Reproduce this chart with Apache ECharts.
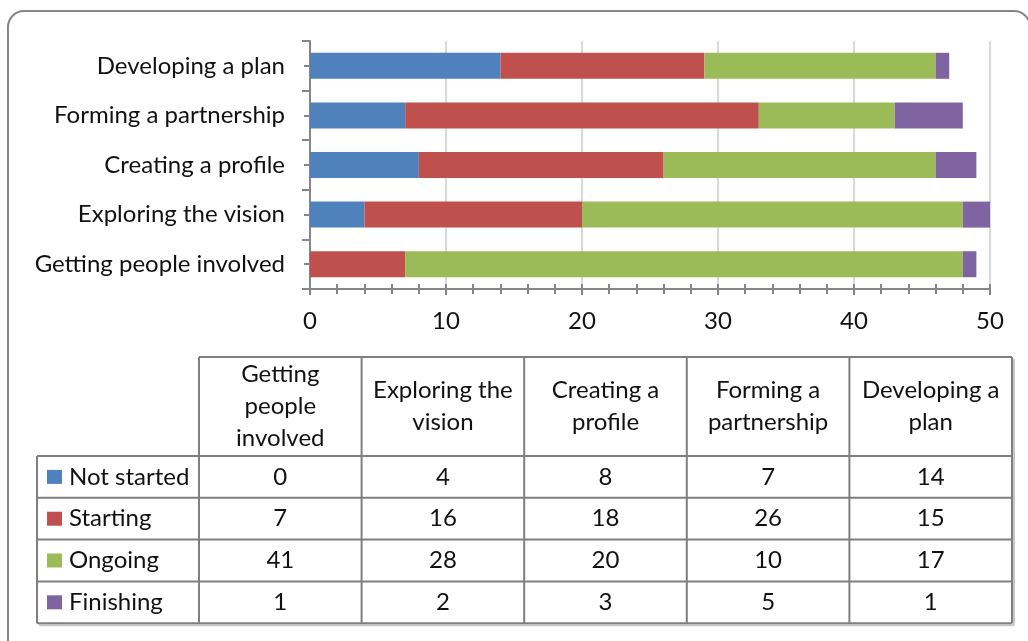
<!DOCTYPE html>
<html>
<head>
<meta charset="utf-8">
<script src="https://cdn.jsdelivr.net/npm/echarts@6/dist/echarts.min.js"></script>
<style>
  html, body { margin: 0; padding: 0; background: #ffffff; }
  #chart { width: 1028px; height: 641px; }
</style>
</head>
<body>
<div id="chart"></div>
<script>
// Progress of each stage, counted per status
const categories = ['Getting people involved', 'Exploring the vision', 'Creating a profile', 'Forming a partnership', 'Developing a plan'];
const headerLabels = ['Getting\npeople\ninvolved', 'Exploring the\nvision', 'Creating a\nprofile', 'Forming a\npartnership', 'Developing a\nplan'];
const seriesNames = ['Not started', 'Starting', 'Ongoing', 'Finishing'];
const notStarted = [0, 4, 8, 7, 14];
const starting = [7, 16, 18, 26, 15];
const ongoing = [41, 28, 20, 10, 17];
const finishing = [1, 2, 3, 5, 1];
const xTickLabels = ['0', '10', '20', '30', '40', '50'];

const seriesValues = [notStarted, starting, ongoing, finishing];
const colors = ['#4f81bd', '#c0504d', '#9bbb59', '#8064a2'];
const FONT = 'Lato, "Noto Sans", sans-serif';
const FS = 24;
const TEXT = '#111111';
const AXIS = '#868686';

// data table geometry
const tbl = {
  legendLeft: 37, colStart: 199, colW: 162.6,
  headTop: 357, headBottom: 456, rowH: 41.8
};

function buildTable() {
  const els = [];
  const nCols = categories.length;
  const right = tbl.colStart + nCols * tbl.colW;
  const bottom = tbl.headBottom + seriesNames.length * tbl.rowH;
  const lineStyle = { stroke: '#7f7f7f', lineWidth: 2 };
  const shadowStyle = { stroke: '#c8c8c8', lineWidth: 2 };
  // soft shadow along the right and bottom edges
  els.push({ type: 'line', shape: { x1: right + 2, y1: tbl.headTop + 2, x2: right + 2, y2: bottom + 2 }, style: shadowStyle });
  els.push({ type: 'line', shape: { x1: tbl.legendLeft + 2, y1: bottom + 2, x2: right + 2, y2: bottom + 2 }, style: shadowStyle });
  // horizontal rules
  els.push({ type: 'line', shape: { x1: tbl.colStart, y1: tbl.headTop, x2: right, y2: tbl.headTop }, style: lineStyle });
  for (let r = 0; r <= seriesNames.length; r++) {
    const y = tbl.headBottom + r * tbl.rowH;
    els.push({ type: 'line', shape: { x1: tbl.legendLeft, y1: y, x2: right, y2: y }, style: lineStyle });
  }
  // vertical rules
  els.push({ type: 'line', shape: { x1: tbl.legendLeft, y1: tbl.headBottom, x2: tbl.legendLeft, y2: bottom }, style: lineStyle });
  for (let c = 0; c <= nCols; c++) {
    const x = tbl.colStart + c * tbl.colW;
    els.push({ type: 'line', shape: { x1: x, y1: tbl.headTop, x2: x, y2: bottom }, style: lineStyle });
  }
  // header texts
  headerLabels.forEach((h, c) => {
    els.push({
      type: 'text',
      x: tbl.colStart + (c + 0.5) * tbl.colW,
      y: (tbl.headTop + tbl.headBottom) / 2,
      style: { text: h, fontFamily: FONT, fontSize: FS, fill: TEXT, align: 'center', verticalAlign: 'middle', lineHeight: 32 }
    });
  });
  // legend keys and values
  seriesNames.forEach((name, r) => {
    const cy = tbl.headBottom + (r + 0.5) * tbl.rowH;
    els.push({ type: 'rect', shape: { x: 47, y: cy - 7, width: 15, height: 14 }, style: { fill: colors[r] } });
    els.push({
      type: 'text', x: 69, y: cy,
      style: { text: name, fontFamily: FONT, fontSize: FS, fill: TEXT, align: 'left', verticalAlign: 'middle' }
    });
    seriesValues[r].forEach((v, c) => {
      els.push({
        type: 'text',
        x: tbl.colStart + (c + 0.5) * tbl.colW, y: cy,
        style: { text: String(v), fontFamily: FONT, fontSize: FS, fill: TEXT, align: 'center', verticalAlign: 'middle' }
      });
    });
  });
  return els;
}

const chart = echarts.init(document.getElementById('chart'), null, { renderer: 'canvas' });

const catAxisBase = {
  type: 'category', data: categories, position: 'left',
  axisLine: { show: false }, axisLabel: { show: false }, splitLine: { show: false }
};

const option = {
  backgroundColor: '#ffffff',
  animation: false,
  color: colors,
  grid: { left: 310, top: 41, width: 680, height: 248, containLabel: false },
  xAxis: [
    {
      type: 'value', min: 0, max: 50, interval: 10, position: 'bottom',
      axisLine: { show: true, lineStyle: { color: AXIS, width: 2 } },
      axisTick: { show: true, length: 6, lineStyle: { color: AXIS, width: 2 } },
      minorTick: { show: true, splitNumber: 5, length: 5, lineStyle: { color: AXIS, width: 2 } },
      splitLine: { show: true, lineStyle: { color: '#d9d9d9', width: 2 } },
      axisLabel: {
        margin: 20, fontFamily: FONT, fontSize: FS, color: TEXT,
        formatter: (v) => xTickLabels[Math.round(v / 10)]
      }
    },
    {
      type: 'value', min: 0, max: 50, interval: 10, position: 'bottom',
      axisLine: { show: false },
      axisTick: { show: true, inside: true, length: 5, lineStyle: { color: AXIS, width: 2 } },
      minorTick: { show: true, splitNumber: 5, length: 5, lineStyle: { color: AXIS, width: 2 } },
      splitLine: { show: false }, axisLabel: { show: false }
    }
  ],
  yAxis: [
    {
      type: 'category', data: categories, position: 'left',
      axisLine: { show: true, lineStyle: { color: AXIS, width: 2 } },
      axisTick: { show: true, length: 8, lineStyle: { color: AXIS, width: 2 } },
      axisLabel: { margin: 25, fontFamily: FONT, fontSize: FS, color: TEXT },
      splitLine: { show: false }
    },
    Object.assign({}, catAxisBase, {
      axisTick: { show: true, alignWithLabel: true, inside: true, length: 6, lineStyle: { color: AXIS, width: 2 } }
    }),
    Object.assign({}, catAxisBase, {
      axisTick: { show: true, alignWithLabel: true, length: 6, lineStyle: { color: AXIS, width: 2 } }
    })
  ],
  series: seriesNames.map((name, i) => ({
    name: name, type: 'bar', stack: 'total', barWidth: 26,
    xAxisIndex: 0, yAxisIndex: 0,
    itemStyle: { color: colors[i] },
    data: seriesValues[i]
  })),
  graphic: [
    {
      type: 'rect', silent: true, z: -10,
      shape: { x: 8, y: 11, width: 1022, height: 645, r: 16 },
      style: { fill: 'none', stroke: '#d9d9d9', lineWidth: 2.5 }
    },
    { type: 'group', id: 'table', children: buildTable() }
  ]
};

chart.setOption(option);

// extend the axis lines slightly beyond the plot, as the spreadsheet chart does
const pEnd = chart.convertToPixel({ xAxisIndex: 0 }, 50);
const gridRect = chart.getModel().getComponent('grid', 0).coordinateSystem.getRect();
const axisY = gridRect.y + gridRect.height;
chart.setOption({
  graphic: [
    {
      type: 'line', silent: true, z: 50,
      shape: { x1: gridRect.x - 8, y1: axisY, x2: pEnd + 13, y2: axisY },
      style: { stroke: AXIS, lineWidth: 2 }
    },
    {
      type: 'line', silent: true, z: 50,
      shape: { x1: gridRect.x, y1: gridRect.y, x2: gridRect.x, y2: axisY + 8 },
      style: { stroke: AXIS, lineWidth: 2 }
    }
  ]
});
</script>
</body>
</html>
